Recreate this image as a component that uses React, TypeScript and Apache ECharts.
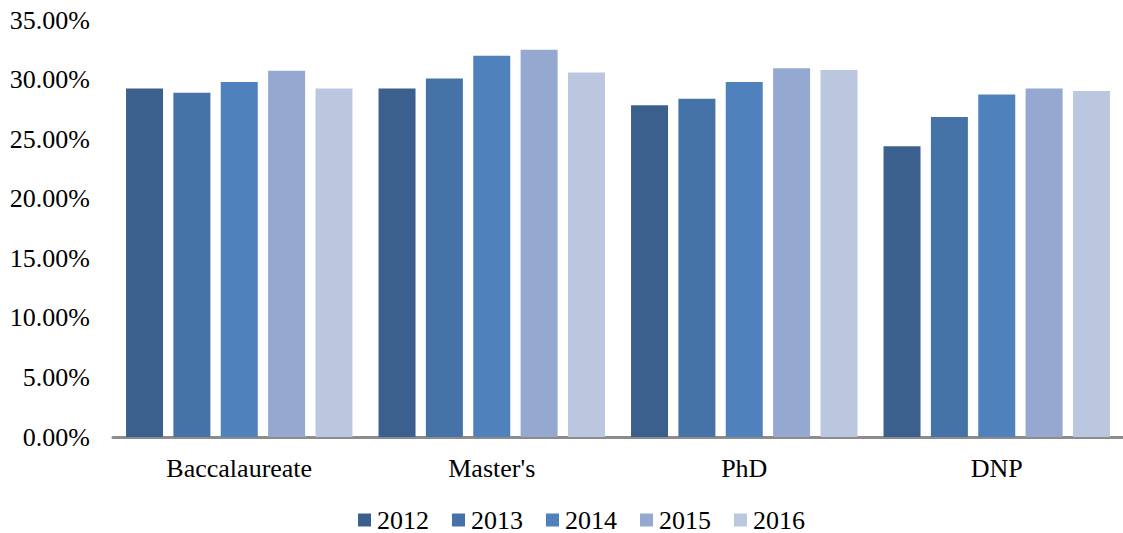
import React, { useEffect, useRef } from "react";
import * as echarts from "echarts";

const categories = ["Baccalaureate", "Master's", "PhD", "DNP"];
const years = ["2012", "2013", "2014", "2015", "2016"];
const v2012 = [29.25, 29.25, 27.85, 24.4];
const v2013 = [28.9, 30.1, 28.4, 26.85];
const v2014 = [29.8, 32.0, 29.8, 28.75];
const v2015 = [30.75, 32.5, 30.95, 29.25];
const v2016 = [29.25, 30.6, 30.8, 29.05];
const colors = ["#3b608e", "#4573a7", "#4f81bd", "#95a9d0", "#bbc7df"];
const yTicks = [0, 5, 10, 15, 20, 25, 30, 35];

const FONT = '"Liberation Serif", "Times New Roman", serif';

export default function App() {
  const ref = useRef<HTMLDivElement>(null);
  useEffect(() => {
    if (!ref.current) return;
    const chart = echarts.init(ref.current, null, { renderer: "svg" });
    const values = [v2012, v2013, v2014, v2015, v2016];
    chart.setOption({
      animation: false,
      backgroundColor: "#ffffff",
      textStyle: { fontFamily: FONT },
      grid: { left: 113, right: -8, top: 20, bottom: 96, containLabel: false },
      legend: {
        top: 502,
        left: 353,
        itemWidth: 13,
        itemHeight: 13,
        itemGap: 23,
        icon: "rect",
        textStyle: { fontFamily: FONT, fontSize: 26, color: "#000", padding: [0, 0, 0, 1] },
        data: years,
      },
      xAxis: {
        type: "category",
        data: categories,
        axisLine: { show: true, lineStyle: { color: "#8c8c8c", width: 3 } },
        axisTick: { show: false },
        axisLabel: { fontFamily: FONT, fontSize: 26, color: "#000", margin: 18 },
      },
      yAxis: {
        type: "value",
        min: yTicks[0],
        max: yTicks[yTicks.length - 1],
        interval: 5,
        axisLine: { show: false },
        axisTick: { show: false },
        splitLine: { show: false },
        axisLabel: {
          fontFamily: FONT,
          fontSize: 26,
          color: "#000",
          margin: 23,
          formatter: (v: number) => `${v.toFixed(2)}%`,
        },
      },
      series: years.map((y, i) => ({
        name: y,
        type: "bar",
        data: values[i],
        barWidth: 37,
        barGap: "28%",
        itemStyle: { color: colors[i] },
      })),
    });
    return () => chart.dispose();
  }, []);
  return (
    <div
      ref={ref}
      style={{ position: "fixed", left: 0, top: 0, width: 1123, height: 533 }}
    />
  );
}
